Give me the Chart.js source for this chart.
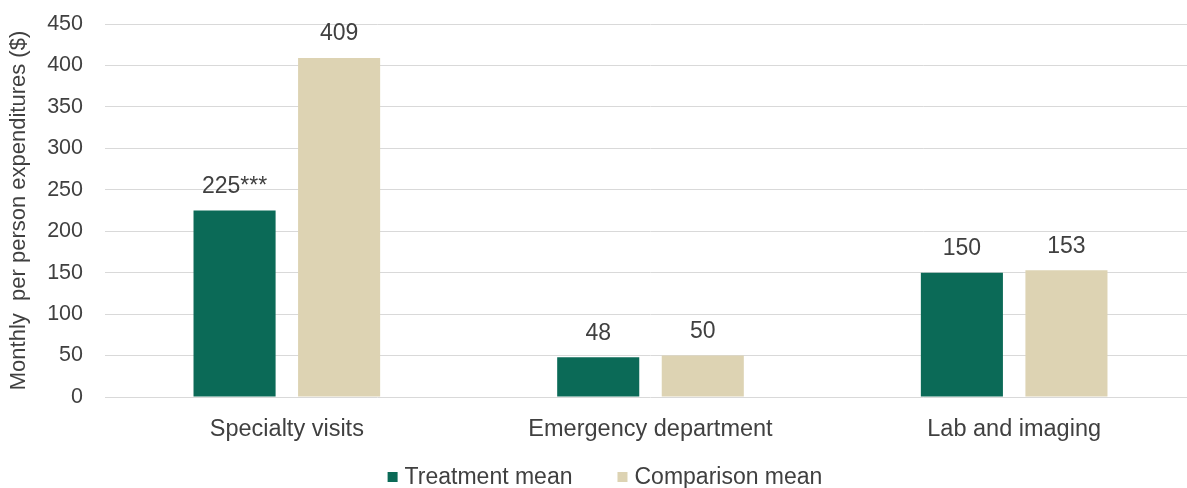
<!DOCTYPE html>
<html>
<head>
<meta charset="utf-8">
<script src="https://cdn.jsdelivr.net/npm/chart.js@4.4.1/dist/chart.umd.min.js"></script>
<style>
  html, body { margin: 0; padding: 0; background: #fff; overflow: hidden; }
  #wrap { width: 1196px; height: 488px; position: relative; }
</style>
</head>
<body>
<div id="wrap"><canvas id="expChart"></canvas></div>
<script>
// --- data ---
const categories = ['Specialty visits', 'Emergency department', 'Lab and imaging'];
const treatmentMean = [225, 48, 150];
const comparisonMean = [409, 50, 153];
const treatmentSig = ['***', '', ''];
const comparisonSig = ['', '', ''];
const yTicks = [0, 50, 100, 150, 200, 250, 300, 350, 400, 450];

const FONT = '"Liberation Sans", Arial, sans-serif';
const TEXT = '#404040';

// value labels above bars (with significance stars)
const barLabels = {
    id: 'barLabels',
    afterDatasetsDraw(chart) {
        const ctx = chart.ctx;
        const sigs = [treatmentSig, comparisonSig];
        ctx.save();
        ctx.fillStyle = TEXT;
        ctx.font = '23px ' + FONT;
        ctx.textBaseline = 'middle';
        ctx.textAlign = 'center';
        chart.data.datasets.forEach((ds, i) => {
            chart.getDatasetMeta(i).data.forEach((bar, j) => {
                const txt = String(ds.data[j]) + (sigs[i][j] || '');
                ctx.fillText(txt, bar.x, bar.y - 24);
            });
        });
        ctx.restore();
    }
};

// legend drawn under the axis labels
const bottomLegend = {
    id: 'bottomLegend',
    afterDraw(chart) {
        const ctx = chart.ctx;
        const box = 10, gapText = 7, gapItem = 45, y = 477;
        ctx.save();
        ctx.font = '23px ' + FONT;
        ctx.textBaseline = 'middle';
        ctx.textAlign = 'left';
        const items = chart.data.datasets.map(ds => ({
            label: ds.label, color: ds.backgroundColor,
            w: box + gapText + ctx.measureText(ds.label).width
        }));
        const total = items.reduce((s, it) => s + it.w, 0) + gapItem * (items.length - 1);
        let x = 605 - total / 2;
        items.forEach(it => {
            ctx.fillStyle = it.color;
            ctx.fillRect(x, y - box / 2, box, box);
            ctx.fillStyle = TEXT;
            ctx.fillText(it.label, x + box + gapText, y + 1);
            x += it.w + gapItem;
        });
        ctx.restore();
    }
};

new Chart(document.getElementById('expChart'), {
    type: 'bar',
    data: {
        labels: categories,
        datasets: [
            { label: 'Treatment mean', data: treatmentMean, backgroundColor: '#0b6a57' },
            { label: 'Comparison mean', data: comparisonMean, backgroundColor: '#ddd3b3' }
        ]
    },
    options: {
        responsive: true,
        maintainAspectRatio: false,
        animation: false,
        layout: { padding: { top: 24, left: 0, right: 0, bottom: 41 } },
        datasets: { bar: { categoryPercentage: 0.575, barPercentage: 0.785 } },
        scales: {
            x: {
                grid: { display: false },
                border: { display: false },
                ticks: { color: TEXT, font: { family: FONT, size: 23.5 }, padding: 10 },
                afterFit: (s) => { s.height = 50; }
            },
            y: {
                min: 0,
                max: 450,
                afterBuildTicks: (s) => { s.ticks = yTicks.map(v => ({ value: v })); },
                grid: { color: '#d9d9d9', lineWidth: 1, drawTicks: false },
                border: { display: false },
                ticks: { color: TEXT, font: { family: FONT, size: 21.5 }, padding: 22 },
                title: {
                    display: true,
                    text: 'Monthly  per person expenditures ($)',
                    color: TEXT,
                    font: { family: FONT, size: 22 },
                    padding: { top: 6, bottom: 0 }
                },
                afterFit: (s) => {
                    s.width = 105;
                    s.paddingTop = 0;
                    s.paddingBottom = 0;
                }
            }
        },
        plugins: {
            legend: { display: false },
            tooltip: { enabled: false }
        }
    },
    plugins: [barLabels, bottomLegend]
});
</script>
</body>
</html>
